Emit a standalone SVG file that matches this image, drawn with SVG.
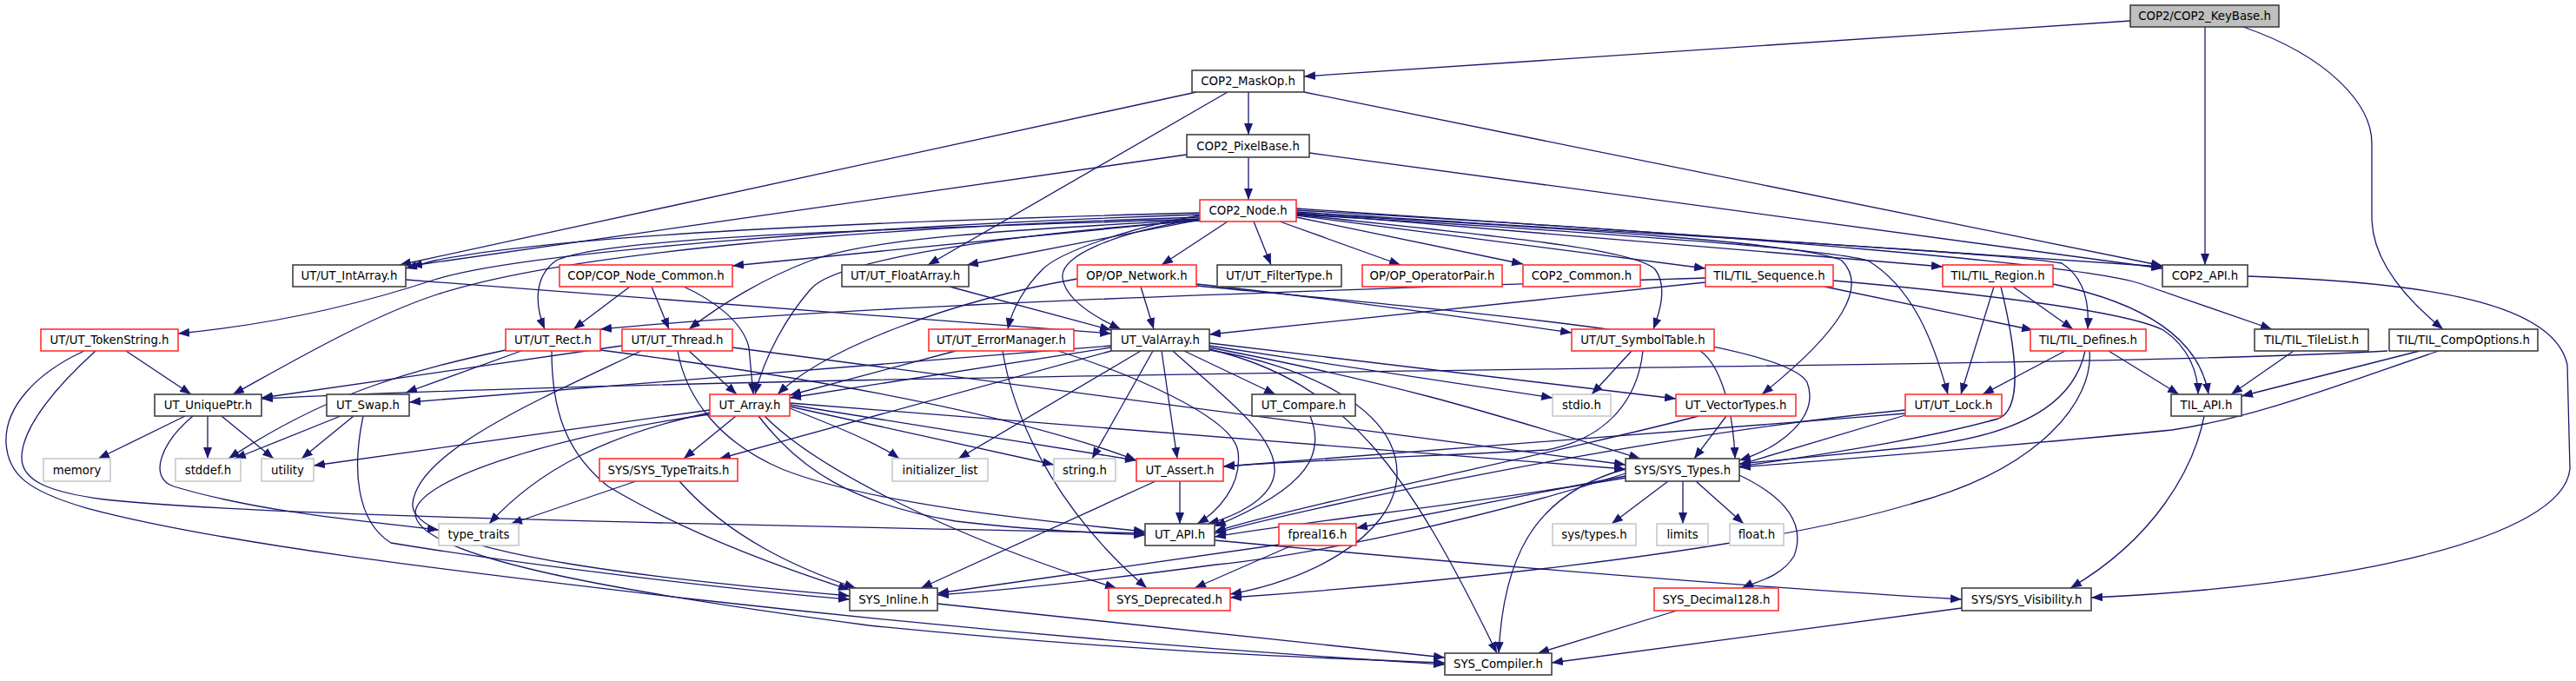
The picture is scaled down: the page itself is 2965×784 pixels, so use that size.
<svg xmlns="http://www.w3.org/2000/svg" width="2965" height="784" viewBox="0 0 2965 784">
<style>
rect{stroke-width:1.6}
.b rect{fill:#fff;stroke:#404040}
.r rect{fill:#fff;stroke:#ff3030}
.g rect{fill:#fff;stroke:#c8c8c8}
.k rect{fill:#bfbfbf;stroke:#404040}
text{font-family:"DejaVu Sans","Liberation Sans",sans-serif;font-size:13.3px;fill:#000;text-anchor:middle}
#edges path{fill:none;stroke:#191970;stroke-width:1.3;marker-end:url(#ah)}
</style>
<defs>
<marker id="ah" markerWidth="13" markerHeight="10" refX="13" refY="5" orient="auto" markerUnits="userSpaceOnUse"><path d="M0,0 L13,5 L0,10 z" fill="#191970"/></marker>
</defs>
<rect width="2965" height="784" fill="#fff"/>
<g id="edges">
<path d="M2452,24 L1501,88"/>
<path d="M2538,31 L2538,305"/>
<path d="M2582,31 C2680,65 2730,120 2730,165 L2730,250 C2730,300 2770,345 2812,379"/>
<path d="M1437,106 L1437,155"/>
<path d="M1501,106 L2489,306"/>
<path d="M1377,106 L460,305"/>
<path d="M1413,106 L1068,305"/>
<path d="M1437,181 L1437,230"/>
<path d="M1507,176 L2489,309"/>
<path d="M1366,178 L473,306"/>
<path d="M1381,245 C1000,255 650,270 500,300 L467,309"/>
<path d="M1381,247 C1000,260 600,290 500,322 C400,355 300,375 205,384"/>
<path d="M1381,250 C1000,262 650,290 500,340 C420,367 330,420 268,454"/>
<path d="M1381,252 C1100,262 700,270 640,300 C615,318 615,350 627,379"/>
<path d="M1381,253 L843,306"/>
<path d="M1381,253 C1150,265 1000,275 933,300 C880,320 830,350 793,379"/>
<path d="M1381,253 L1113,305"/>
<path d="M1381,248 C1300,262 1220,290 1200,310 C1180,330 1165,355 1160,379"/>
<path d="M1381,252 C1280,268 1220,295 1223,320 C1226,345 1260,365 1290,379"/>
<path d="M1381,254 C1150,270 960,300 933,333 C905,365 880,410 869,454"/>
<path d="M1413,255 L1337,305"/>
<path d="M1443,255 L1463,305"/>
<path d="M1473,255 L1612,305"/>
<path d="M1492,250 L1753,304"/>
<path d="M1492,248 L1963,309"/>
<path d="M1492,247 C1700,270 1880,285 1905,310 C1920,330 1910,360 1903,379"/>
<path d="M1492,245 L2236,307"/>
<path d="M1492,244 C1900,270 2300,290 2373,303 C2400,320 2405,350 2403,379"/>
<path d="M1492,240 L2489,307"/>
<path d="M1492,242 C2000,270 2400,305 2465,327 L2615,379"/>
<path d="M1492,246 C1800,262 2080,280 2120,300 C2150,330 2120,380 2028,454"/>
<path d="M1492,247 C1800,265 2100,285 2150,300 C2200,330 2225,390 2242,454"/>
<path d="M725,330 L660,379"/>
<path d="M750,330 L770,379"/>
<path d="M787,330 C820,345 855,370 862,400 L867,454"/>
<path d="M467,322 L1279,384"/>
<path d="M1093,330 L1279,380"/>
<path d="M1313,330 L1328,379"/>
<path d="M1240,321 C1100,345 950,400 895,454"/>
<path d="M1377,327 C1500,340 1650,360 1809,383"/>
<path d="M1377,329 C1700,360 2050,390 2080,440 C2095,480 2050,515 2002,530"/>
<path d="M1963,325 L1392,385"/>
<path d="M1963,320 C1500,335 1000,350 691,379"/>
<path d="M2100,330 L2340,380"/>
<path d="M2110,323 C2300,340 2450,360 2490,380 C2520,400 2530,430 2530,454"/>
<path d="M2295,330 L2257,454"/>
<path d="M2317,330 L2386,379"/>
<path d="M2303,330 C2320,400 2330,470 2300,482 C2200,510 2050,530 2002,537"/>
<path d="M2363,327 C2450,345 2530,380 2542,454"/>
<path d="M2377,404 L2282,454"/>
<path d="M2427,404 L2508,454"/>
<path d="M2400,404 C2390,450 2350,500 2200,515 C2100,525 2050,530 2002,534"/>
<path d="M2405,404 C2410,460 2350,540 2200,580 C2000,640 1600,675 1416,688"/>
<path d="M2640,404 L2568,454"/>
<path d="M2785,404 L2580,456"/>
<path d="M2807,404 C2700,440 2600,480 2500,495 C2300,515 2100,530 2002,538"/>
<path d="M2748,404 C2400,425 1000,425 301,459"/>
<path d="M2587,318 C2800,325 2940,350 2955,420 L2958,540 C2950,620 2700,675 2407,688"/>
<path d="M2537,479 C2525,540 2480,620 2383,677"/>
<path d="M2258,700 L1786,763"/>
<path d="M793,404 L848,454"/>
<path d="M716,398 L301,458"/>
<path d="M843,400 L1871,535"/>
<path d="M780,404 C790,460 830,510 900,540 C1000,580 1200,600 1318,612"/>
<path d="M738,404 C620,460 480,520 475,580 C470,640 800,670 978,686"/>
<path d="M600,404 L467,452"/>
<path d="M582,403 C480,425 380,450 263,528"/>
<path d="M635,404 C635,470 650,520 700,560 C800,620 920,660 978,679"/>
<path d="M691,403 C900,430 1150,470 1308,530"/>
<path d="M817,472 L361,536"/>
<path d="M817,475 C700,500 620,540 563,603"/>
<path d="M847,479 L787,528"/>
<path d="M817,477 C650,500 480,550 478,590 C476,640 700,680 1000,720 C1300,750 1500,757 1663,763"/>
<path d="M880,479 C940,540 1100,620 1285,677"/>
<path d="M873,479 C920,540 980,580 1100,600 C1200,612 1280,614 1318,616"/>
<path d="M909,470 C960,490 1010,510 1035,528"/>
<path d="M909,468 L1213,535"/>
<path d="M909,466 L1308,530"/>
<path d="M909,464 L1871,540"/>
<path d="M1279,400 L909,458"/>
<path d="M1279,404 L828,528"/>
<path d="M1279,398 L471,463"/>
<path d="M1313,404 L1103,528"/>
<path d="M1327,404 L1257,528"/>
<path d="M1337,404 L1355,528"/>
<path d="M1350,404 C1400,450 1470,500 1467,543 C1465,575 1420,595 1390,603"/>
<path d="M1363,404 L1468,454"/>
<path d="M1392,398 L1787,458"/>
<path d="M1392,395 L1929,459"/>
<path d="M1392,400 C1600,440 1700,470 1888,528"/>
<path d="M1392,402 C1550,440 1620,540 1723,752"/>
<path d="M1392,403 C1500,420 1610,470 1608,547 C1605,620 1500,670 1416,684"/>
<path d="M1100,404 L909,455"/>
<path d="M1154,404 C1170,500 1230,600 1320,677"/>
<path d="M1218,404 C1300,430 1420,480 1425,520 C1430,560 1400,590 1378,603"/>
<path d="M1878,404 L1832,454"/>
<path d="M1957,404 C1980,420 1995,470 1997,528"/>
<path d="M1891,404 C1885,460 1850,505 1780,518 C1650,525 1500,530 1408,537"/>
<path d="M1987,479 L1950,528"/>
<path d="M1955,479 C1800,520 1500,580 1398,612"/>
<path d="M2193,472 C1900,500 1500,585 1398,614"/>
<path d="M2193,478 L2002,535"/>
<path d="M2193,476 C1900,500 1600,520 1408,537"/>
<path d="M1871,540 C1760,570 1730,650 1725,752"/>
<path d="M1920,554 L1855,603"/>
<path d="M1937,554 L1937,603"/>
<path d="M1952,554 L2007,603"/>
<path d="M2002,547 C2050,570 2080,600 2065,640 C2050,665 2020,670 2005,677"/>
<path d="M1871,550 C1700,580 1500,600 1398,618"/>
<path d="M1871,545 C1700,600 1500,640 1400,650 C1250,670 1150,680 1079,685"/>
<path d="M1871,548 L1561,608"/>
<path d="M1930,703 L1770,752"/>
<path d="M1487,628 L1375,677"/>
<path d="M1472,627 L1079,683"/>
<path d="M1398,622 C1700,650 2000,675 2258,690"/>
<path d="M1358,554 L1358,603"/>
<path d="M1330,554 L1060,677"/>
<path d="M1079,695 L1663,757"/>
<path d="M1508,479 C1525,520 1510,560 1398,606"/>
<path d="M732,554 L588,603"/>
<path d="M782,554 C840,620 920,655 985,677"/>
<path d="M213,479 L113,528"/>
<path d="M239,479 L239,528"/>
<path d="M255,479 L315,528"/>
<path d="M222,479 C185,510 170,550 200,560 C300,590 420,600 505,610"/>
<path d="M392,479 L270,528"/>
<path d="M407,479 L347,528"/>
<path d="M418,479 C405,540 410,600 450,625 C600,650 850,680 978,690"/>
<path d="M145,404 L220,454"/>
<path d="M110,404 C70,440 25,490 25,527 C25,555 60,567 120,575 C300,595 900,605 1318,614"/>
<path d="M97,404 C40,430 5,470 7,510 C9,545 30,565 100,585 C250,625 500,655 800,690 C1200,735 1500,755 1663,765"/>
</g>
<g id="n_keybase" class="k"><rect x="2452" y="6" width="171" height="25"/><text x="2537.5" y="23">COP2/COP2_KeyBase.h</text></g>
<g id="n_maskop" class="b"><rect x="1372" y="81" width="129" height="25"/><text x="1436.5" y="98">COP2_MaskOp.h</text></g>
<g id="n_pixelbase" class="b"><rect x="1366" y="155" width="141" height="26"/><text x="1436.5" y="173">COP2_PixelBase.h</text></g>
<g id="n_cop2node" class="r"><rect x="1381" y="230" width="111" height="25"/><text x="1436.5" y="247">COP2_Node.h</text></g>
<g id="n_intarray" class="b"><rect x="337" y="305" width="130" height="25"/><text x="402" y="322">UT/UT_IntArray.h</text></g>
<g id="n_copnodecommon" class="r"><rect x="644" y="305" width="199" height="25"/><text x="743.5" y="322">COP/COP_Node_Common.h</text></g>
<g id="n_floatarray" class="b"><rect x="969" y="305" width="146" height="25"/><text x="1042" y="322">UT/UT_FloatArray.h</text></g>
<g id="n_opnetwork" class="r"><rect x="1240" y="305" width="137" height="25"/><text x="1308.5" y="322">OP/OP_Network.h</text></g>
<g id="n_filtertype" class="b"><rect x="1401" y="305" width="143" height="25"/><text x="1472.5" y="322">UT/UT_FilterType.h</text></g>
<g id="n_oppair" class="r"><rect x="1568" y="305" width="161" height="25"/><text x="1648.5" y="322">OP/OP_OperatorPair.h</text></g>
<g id="n_cop2common" class="r"><rect x="1753" y="305" width="135" height="25"/><text x="1820.5" y="322">COP2_Common.h</text></g>
<g id="n_tilseq" class="r"><rect x="1963" y="305" width="147" height="25"/><text x="2036.5" y="322">TIL/TIL_Sequence.h</text></g>
<g id="n_tilregion" class="r"><rect x="2236" y="305" width="127" height="25"/><text x="2299.5" y="322">TIL/TIL_Region.h</text></g>
<g id="n_cop2api" class="b"><rect x="2489" y="305" width="98" height="25"/><text x="2538" y="322">COP2_API.h</text></g>
<g id="n_tokenstring" class="r"><rect x="47" y="379" width="158" height="25"/><text x="126" y="396">UT/UT_TokenString.h</text></g>
<g id="n_utrect" class="r"><rect x="582" y="379" width="109" height="25"/><text x="636.5" y="396">UT/UT_Rect.h</text></g>
<g id="n_utthread" class="r"><rect x="716" y="379" width="127" height="25"/><text x="779.5" y="396">UT/UT_Thread.h</text></g>
<g id="n_errmgr" class="r"><rect x="1069" y="379" width="167" height="25"/><text x="1152.5" y="396">UT/UT_ErrorManager.h</text></g>
<g id="n_valarray" class="b"><rect x="1279" y="379" width="113" height="25"/><text x="1335.5" y="396">UT_ValArray.h</text></g>
<g id="n_symtable" class="r"><rect x="1809" y="379" width="164" height="25"/><text x="1891" y="396">UT/UT_SymbolTable.h</text></g>
<g id="n_tildefines" class="r"><rect x="2337" y="379" width="133" height="25"/><text x="2403.5" y="396">TIL/TIL_Defines.h</text></g>
<g id="n_tiletilelist" class="b"><rect x="2595" y="379" width="131" height="25"/><text x="2660.5" y="396">TIL/TIL_TileList.h</text></g>
<g id="n_compoptions" class="b"><rect x="2750" y="379" width="171" height="25"/><text x="2835.5" y="396">TIL/TIL_CompOptions.h</text></g>
<g id="n_uniqueptr" class="b"><rect x="178" y="454" width="123" height="25"/><text x="239.5" y="471">UT_UniquePtr.h</text></g>
<g id="n_swap" class="b"><rect x="376" y="454" width="95" height="25"/><text x="423.5" y="471">UT_Swap.h</text></g>
<g id="n_utarray" class="r"><rect x="817" y="454" width="92" height="25"/><text x="863" y="471">UT_Array.h</text></g>
<g id="n_compare" class="b"><rect x="1441" y="454" width="119" height="25"/><text x="1500.5" y="471">UT_Compare.h</text></g>
<g id="n_stdio" class="g"><rect x="1787" y="454" width="67" height="25"/><text x="1820.5" y="471">stdio.h</text></g>
<g id="n_vectortypes" class="r"><rect x="1929" y="454" width="138" height="25"/><text x="1998" y="471">UT_VectorTypes.h</text></g>
<g id="n_utlock" class="r"><rect x="2193" y="454" width="111" height="25"/><text x="2248.5" y="471">UT/UT_Lock.h</text></g>
<g id="n_tilapi" class="b"><rect x="2499" y="454" width="81" height="25"/><text x="2539.5" y="471">TIL_API.h</text></g>
<g id="n_memory" class="g"><rect x="50" y="528" width="77" height="26"/><text x="88.5" y="546">memory</text></g>
<g id="n_stddef" class="g"><rect x="202" y="528" width="75" height="26"/><text x="239.5" y="546">stddef.h</text></g>
<g id="n_utility" class="g"><rect x="301" y="528" width="60" height="26"/><text x="331" y="546">utility</text></g>
<g id="n_typetraits" class="r"><rect x="690" y="528" width="159" height="26"/><text x="769.5" y="546">SYS/SYS_TypeTraits.h</text></g>
<g id="n_initlist" class="g"><rect x="1027" y="528" width="110" height="26"/><text x="1082" y="546">initializer_list</text></g>
<g id="n_stringh" class="g"><rect x="1213" y="528" width="71" height="26"/><text x="1248.5" y="546">string.h</text></g>
<g id="n_assert" class="r"><rect x="1308" y="528" width="100" height="26"/><text x="1358" y="546">UT_Assert.h</text></g>
<g id="n_systypes" class="b"><rect x="1871" y="528" width="131" height="26"/><text x="1936.5" y="546">SYS/SYS_Types.h</text></g>
<g id="n_type_traits" class="g"><rect x="505" y="603" width="92" height="25"/><text x="551" y="620">type_traits</text></g>
<g id="n_utapi" class="b"><rect x="1318" y="603" width="80" height="25"/><text x="1358" y="620">UT_API.h</text></g>
<g id="n_fpreal16" class="r"><rect x="1472" y="603" width="89" height="25"/><text x="1516.5" y="620">fpreal16.h</text></g>
<g id="n_systypesh" class="g"><rect x="1787" y="603" width="96" height="25"/><text x="1835" y="620">sys/types.h</text></g>
<g id="n_limits" class="g"><rect x="1907" y="603" width="59" height="25"/><text x="1936.5" y="620">limits</text></g>
<g id="n_floath" class="g"><rect x="1991" y="603" width="62" height="25"/><text x="2022" y="620">float.h</text></g>
<g id="n_inline" class="b"><rect x="978" y="677" width="101" height="26"/><text x="1028.5" y="695">SYS_Inline.h</text></g>
<g id="n_deprecated" class="r"><rect x="1276" y="677" width="140" height="26"/><text x="1346" y="695">SYS_Deprecated.h</text></g>
<g id="n_decimal128" class="r"><rect x="1904" y="677" width="143" height="26"/><text x="1975.5" y="695">SYS_Decimal128.h</text></g>
<g id="n_visibility" class="b"><rect x="2258" y="677" width="149" height="26"/><text x="2332.5" y="695">SYS/SYS_Visibility.h</text></g>
<g id="n_compiler" class="b"><rect x="1663" y="752" width="123" height="25"/><text x="1724.5" y="769">SYS_Compiler.h</text></g>
</svg>
